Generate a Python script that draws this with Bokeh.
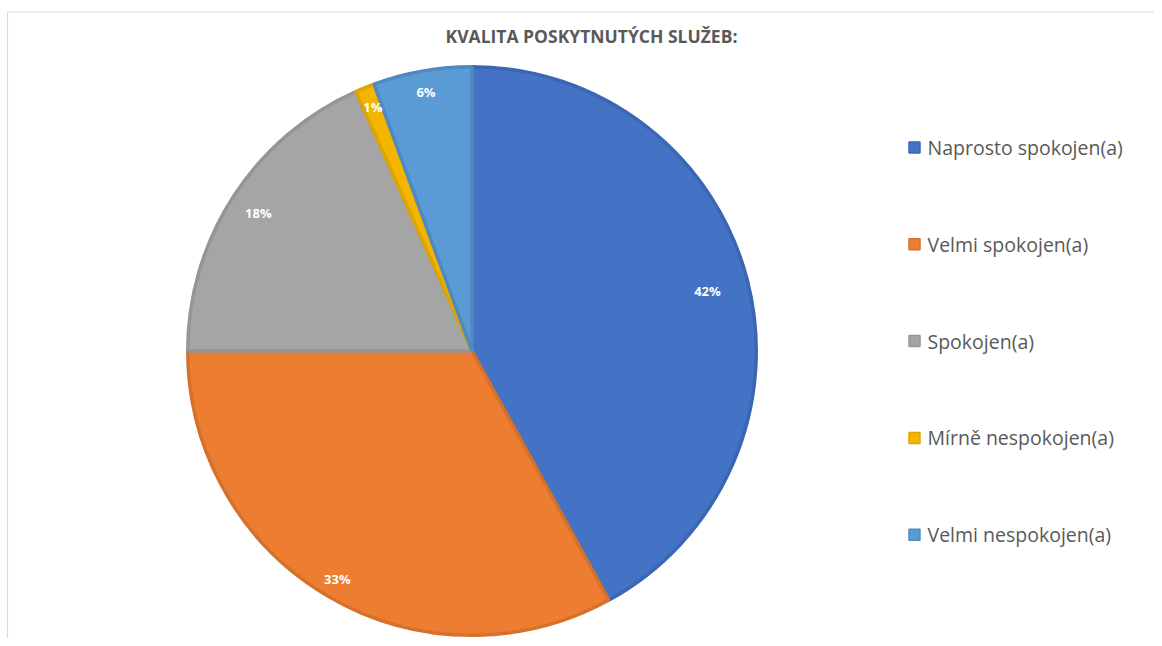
import math
from bokeh.plotting import figure
from bokeh.models import Range1d, ColumnDataSource
from bokeh.core.properties import value
from bokeh.embed import file_html
from bokeh.resources import INLINE

# ---- data ----
title_text = "KVALITA POSKYTNUTÝCH SLUŽEB:"
categories = ["Naprosto spokojen(a)", "Velmi spokojen(a)", "Spokojen(a)",
              "Mírně nespokojen(a)", "Velmi nespokojen(a)"]
shares = [42.0, 33.0, 18.3, 1.1, 5.6]          # percent of respondents
fill_colors = ["#4472C4", "#ED7D31", "#A5A5A5", "#F2B600", "#5B9BD5"]
line_colors = ["#3B66B3", "#D6712C", "#959595", "#DDA500", "#5089C0"]

# ---- layout ----
W, H = 1154, 638
CX, CY, R = 471.5, H - 350.5, 286.0
label_r = [0.85, 0.925, 0.89, 0.92, 0.92]

p = figure(width=W, height=H, output_backend="svg", toolbar_location=None,
           x_range=Range1d(0, W), y_range=Range1d(0, H), min_border=0,
           background_fill_color="white", border_fill_color="white")
p.axis.visible = False
p.grid.visible = False
p.outline_line_color = None

# chart frame (top and left edges)
p.line(x=[7, 7, W], y=[0, H - 11.5, H - 11.5], line_color="#D9D9D9", line_width=1.2)

total = sum(shares)
starts, ends, mids = [], [], []
cum = 0.0
for v in shares:
    f0 = cum / total
    cum += v
    f1 = cum / total
    starts.append(math.pi / 2 - 2 * math.pi * f0)
    ends.append(math.pi / 2 - 2 * math.pi * f1)
    mids.append(math.pi / 2 - 2 * math.pi * (f0 + f1) / 2)

src = ColumnDataSource(dict(cat=categories, start=starts, end=ends,
                            fill=fill_colors, line=line_colors))
p.wedge(x=CX, y=CY, radius=R - 1.75, start_angle="start", end_angle="end",
        direction="clock", fill_color="fill", line_color="line", line_width=3.5,
        source=src)

# data labels
lx = [CX + R * k * math.cos(a) for k, a in zip(label_r, mids)]
ly = [CY + R * k * math.sin(a) for k, a in zip(label_r, mids)]
lt = [f"{round(v / total * 100)}%" for v in shares]
p.text(x=lx, y=ly, text=lt, text_color="white", text_font=value("Open Sans"),
       text_font_style="bold", text_font_size="13px", text_align="center",
       text_baseline="middle")

# title
p.text(x=[591], y=[H - 35], text=[title_text], text_color="#595959",
       text_font=value("Open Sans"), text_font_style="bold", text_font_size="17.5px",
       text_align="center", text_baseline="middle")

# legend
LX, LY0, STEP = 914, H - 147, 96.8
ly_leg = [LY0 - i * STEP for i in range(len(categories))]
p.rect(x=[LX] * len(categories), y=ly_leg, width=11, height=11,
       fill_color=fill_colors, line_color=line_colors, line_width=1.5)
p.text(x=[LX + 13] * len(categories), y=ly_leg, text=categories,
       text_color="#595959", text_font=value("Open Sans"), text_font_size="19.5px",
       text_align="left", text_baseline="middle")

open("out.html", "w").write(file_html(p, INLINE))
